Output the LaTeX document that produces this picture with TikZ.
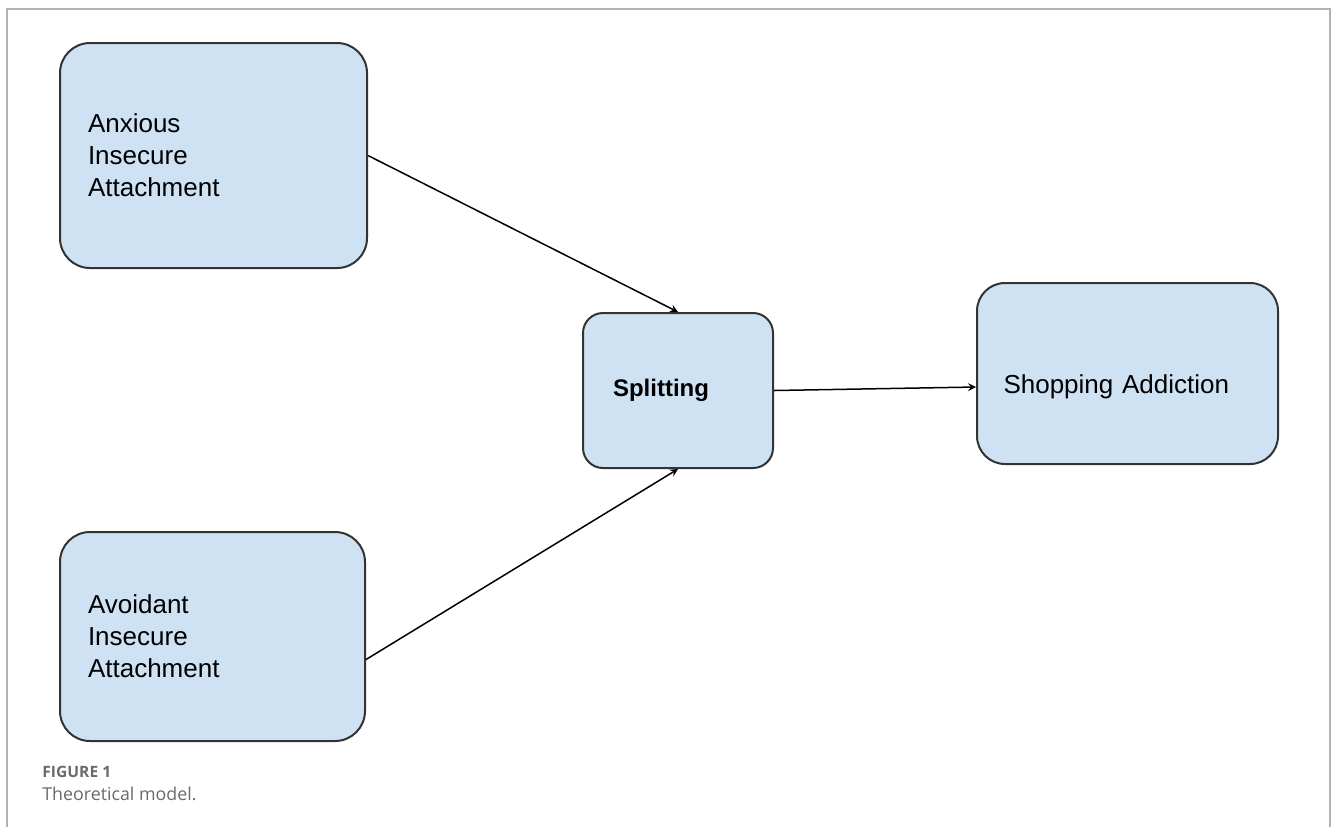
\documentclass[tikz,border=0pt]{standalone}
\usepackage{fontspec}
\setmainfont{Liberation Sans}
\newfontfamily\capfont{Open Sans}
\definecolor{boxblue}{HTML}{CFE2F3}
\definecolor{boxline}{HTML}{333333}
\definecolor{capgray}{HTML}{6A6A6A}
\begin{document}
\begin{tikzpicture}[x=0.5pt, y=-0.5pt,
  box/.style={draw=boxline, line width=1pt, fill=boxblue, align=left,
    inner sep=0pt, font=\fontsize{13pt}{16pt}\selectfont},
  link/.style={->, line width=0.75pt, -stealth}]
 \useasboundingbox (0, 0) rectangle (1331, 827);
 \draw[gray!60, line width=0.75pt] (7, 827) -- (7, 9) -- (1330, 9) -- (1330, 827);

 \node[box, rounded corners=15pt, minimum width=153.5pt, minimum height=112.5pt, text width=125.5pt] at (213.5, 155.5) (anx) {Anxious\\Insecure\\Attachment};
 \node[box, rounded corners=15pt, minimum width=152.5pt, minimum height=104.5pt, text width=124.5pt] at (212.5, 636.5) (avo) {Avoidant\\Insecure\\Attachment};
 \node[box, rounded corners=10pt, minimum width=95pt, minimum height=77.5pt, text width=65pt, font=\fontsize{12pt}{15pt}\selectfont\bfseries] at (678, 390.5) (split) {Splitting};
 \node[box, rounded corners=14pt, minimum width=150.5pt, minimum height=90.5pt, text width=124pt] at (1127.5, 373.5) (shop) {\raisebox{-6.5pt}[\height][\depth]{Shopping Addiction}};

 \node[anchor=base west, capgray, inner sep=0pt, font=\capfont\bfseries\fontsize{7.8pt}{9pt}\selectfont] at (42, 777) (fig) {FIGURE 1};
 \node[anchor=base west, capgray, inner sep=0pt, font=\capfont\fontsize{8.9pt}{11pt}\selectfont] at (42, 800) (cap) {Theoretical model.};

 \draw [link] (anx.east) -- (split.north);
 \draw [link] ([yshift=-11.5pt]avo.east) -- (split.south);
 \draw [link] (split.east) -- ([yshift=-6.75pt]shop.west);
\end{tikzpicture}
\end{document}
